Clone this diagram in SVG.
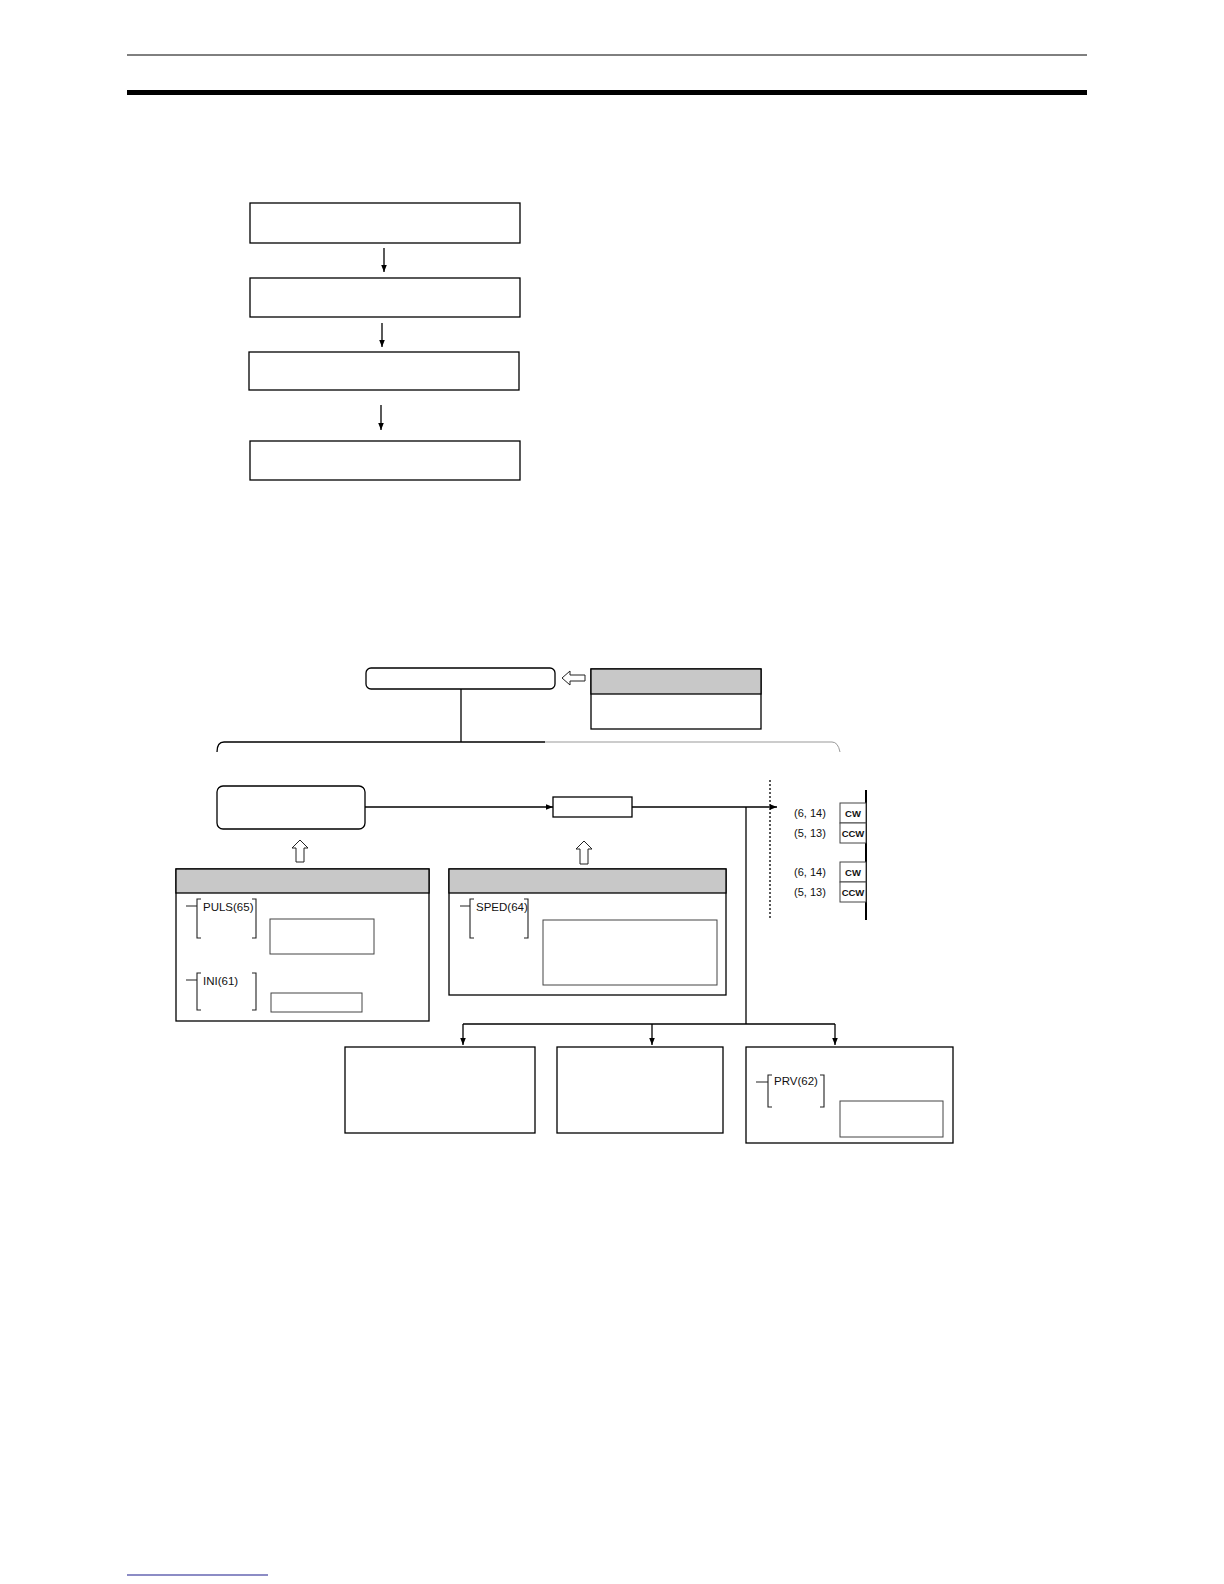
<svg xmlns="http://www.w3.org/2000/svg" width="1224" height="1584" viewBox="0 0 1224 1584">
<style>
.b{fill:#fff;stroke:#000;stroke-width:1.3}
.hd{fill:#c8c8c8;stroke:#000;stroke-width:1.3}
.thin{fill:#fff;stroke:#444;stroke-width:1}
.ln{fill:none;stroke:#000;stroke-width:1.3}
.br{fill:none;stroke:#222;stroke-width:1.1}
.oa{fill:#fff;stroke:#222;stroke-width:1}
.t{font-family:"Liberation Sans",Arial,sans-serif;font-size:11.5px;fill:#111}
.s{font-family:"Liberation Sans",Arial,sans-serif;font-size:11px;fill:#111}
.c{font-family:"Liberation Sans",Arial,sans-serif;font-size:9.5px;fill:#111;font-weight:bold;text-anchor:middle}
</style>
<defs>
<marker id="ah" viewBox="0 0 10 10" refX="10" refY="5" markerWidth="7" markerHeight="7" markerUnits="userSpaceOnUse" orient="auto"><path d="M0,1 L10,5 L0,9 Z" fill="#000"/></marker>
</defs>
<rect width="1224" height="1584" fill="#fff"/>
<line x1="127" y1="55" x2="1087" y2="55" stroke="#000" stroke-width="1"/>
<rect x="127" y="90" width="960" height="5" fill="#000"/>
<line x1="127" y1="1575" x2="268" y2="1575" stroke="#1a1a8c" stroke-width="1.2"/>

<g id="flow1"><rect class="b" x="250" y="203" width="270" height="40"/></g>
<g id="flow2"><rect class="b" x="250" y="278" width="270" height="39"/></g>
<g id="flow3"><rect class="b" x="249" y="352" width="270" height="38"/></g>
<g id="flow4"><rect class="b" x="250" y="441" width="270" height="39"/></g>

<g id="top-node"><rect class="b" x="366" y="668" width="189" height="21" rx="5"/></g>
<g id="top-info"><rect class="b" x="591" y="669" width="170" height="60"/><rect class="hd" x="591" y="669" width="170" height="25"/></g>
<g id="left-node"><rect class="b" x="217" y="786" width="148" height="43" rx="6"/></g>
<g id="mid-node"><rect class="b" x="553" y="797" width="79" height="20"/></g>

<g id="puls-box">
<rect class="b" x="176" y="869" width="253" height="152"/><rect class="hd" x="176" y="869" width="253" height="24"/>
<path class="br" d="M186,906 H197 M201,899 H197 V938 H201 M252,899 H256 V938 H252"/>
<text class="t" x="203" y="911">PULS(65)</text>
<rect class="thin" x="270" y="919" width="104" height="35"/>
<path class="br" d="M186,980 H197 M201,973 H197 V1010 H201 M252,973 H256 V1010 H252"/>
<text class="t" x="203" y="985">INI(61)</text>
<rect class="thin" x="271" y="993" width="91" height="19"/>
</g>

<g id="sped-box">
<rect class="b" x="449" y="869" width="277" height="126"/><rect class="hd" x="449" y="869" width="277" height="24"/>
<path class="br" d="M460,906 H470 M474,899 H470 V938 H474 M524,899 H528 V938 H524"/>
<text class="t" x="476" y="911">SPED(64)</text>
<rect class="thin" x="543" y="920" width="174" height="65"/>
</g>

<g id="outputs">
<line x1="770" y1="780" x2="770" y2="920" stroke="#222" stroke-width="1.5" stroke-dasharray="2,2"/>
<line x1="866" y1="790" x2="866" y2="920" stroke="#000" stroke-width="2"/>
<text class="s" x="794" y="817">(6, 14)</text>
<text class="s" x="794" y="837">(5, 13)</text>
<text class="s" x="794" y="876">(6, 14)</text>
<text class="s" x="794" y="896">(5, 13)</text>
<rect class="thin" x="840" y="803" width="26" height="20"/><text class="c" x="853" y="817">CW</text>
<rect class="thin" x="840" y="823" width="26" height="20"/><text class="c" x="853" y="837">CCW</text>
<rect class="thin" x="840" y="862" width="26" height="20"/><text class="c" x="853" y="876">CW</text>
<rect class="thin" x="840" y="882" width="26" height="20"/><text class="c" x="853" y="896">CCW</text>
</g>

<g id="bottom1"><rect class="b" x="345" y="1047" width="190" height="86"/></g>
<g id="bottom2"><rect class="b" x="557" y="1047" width="166" height="86"/></g>
<g id="prv-box">
<rect class="b" x="746" y="1047" width="207" height="96"/>
<path class="br" d="M756,1082 H768 M772,1075 H768 V1107 H772 M820,1075 H824 V1107 H820"/>
<text class="t" x="774" y="1085">PRV(62)</text>
<rect class="thin" x="840" y="1101" width="103" height="36"/>
</g>

<g id="connectors">
<line class="ln" x1="384" y1="248" x2="384" y2="272" marker-end="url(#ah)"/>
<line class="ln" x1="382" y1="323" x2="382" y2="347" marker-end="url(#ah)"/>
<line class="ln" x1="381" y1="405" x2="381" y2="430" marker-end="url(#ah)"/>
<path class="oa" d="M562,678 L570,671 V675 H585 V681 H570 V685 Z"/>
<line class="ln" x1="461" y1="689" x2="461" y2="742"/>
<path class="ln" d="M217,752 Q217,742 224,742 H545"/>
<path fill="none" stroke="#999" stroke-width="1" d="M545,742 H832 Q838,742 840,752"/>
<line class="ln" x1="365" y1="807" x2="553" y2="807" marker-end="url(#ah)"/>
<line class="ln" x1="632" y1="807" x2="777" y2="807" marker-end="url(#ah)"/>
<line class="ln" x1="746" y1="807" x2="746" y2="1024"/>
<path class="oa" d="M300,840 L308,848 H304 V862 H296 V848 H292 Z"/>
<path class="oa" d="M584,841 L592,849 H588 V864 H580 V849 H576 Z"/>
<path class="ln" d="M463,1024 H835"/>
<line class="ln" x1="463" y1="1024" x2="463" y2="1045" marker-end="url(#ah)"/>
<line class="ln" x1="652" y1="1024" x2="652" y2="1045" marker-end="url(#ah)"/>
<line class="ln" x1="835" y1="1024" x2="835" y2="1045" marker-end="url(#ah)"/>
</g>
</svg>
